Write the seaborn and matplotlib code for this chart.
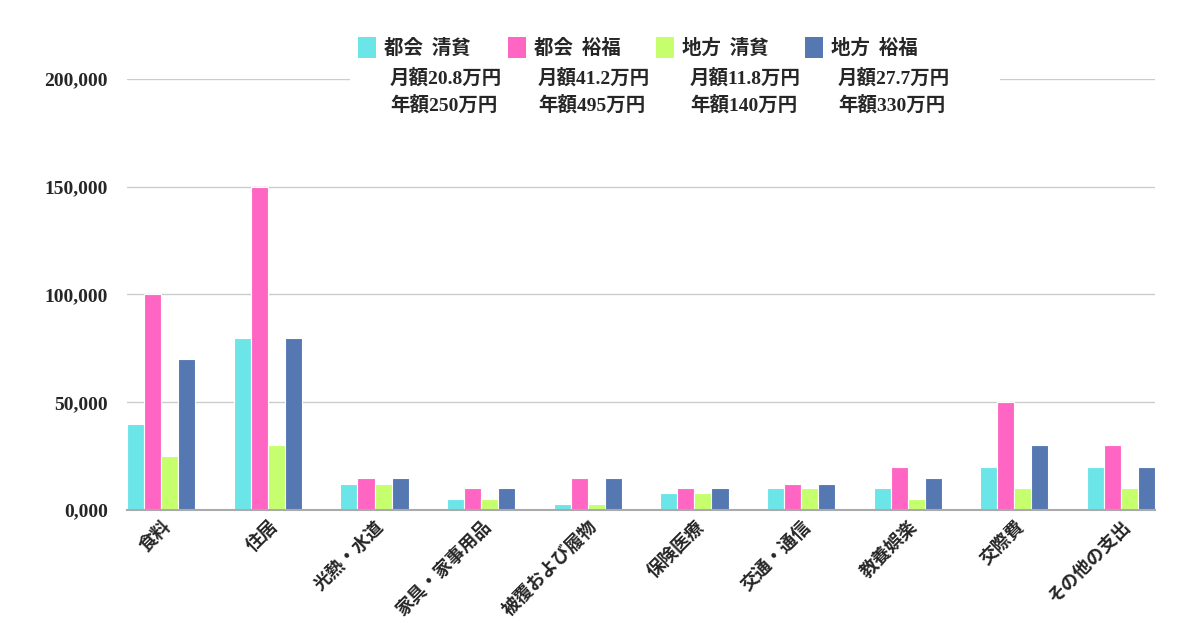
import matplotlib
matplotlib.use("Agg")
import matplotlib.pyplot as plt
from matplotlib.patches import Rectangle
import seaborn as sns
import pandas as pd

categories = ["食料", "住居", "光熱・水道", "家具・家事用品", "被覆および履物",
              "保険医療", "交通・通信", "教養娯楽", "交際費", "その他の支出"]
series_names = ["都会 清貧", "都会 裕福", "地方 清貧", "地方 裕福"]
city_poor = [40000, 80000, 12000, 5000, 3000, 8000, 10000, 10000, 20000, 20000]
city_rich = [100000, 150000, 15000, 10000, 15000, 10000, 12000, 20000, 50000, 30000]
rural_poor = [25000, 30000, 12000, 5000, 3000, 8000, 10000, 5000, 10000, 10000]
rural_rich = [70000, 80000, 15000, 10000, 15000, 10000, 12000, 15000, 30000, 20000]
monthly = ["月額20.8万円", "月額41.2万円", "月額11.8万円", "月額27.7万円"]
annual = ["年額250万円", "年額495万円", "年額140万円", "年額330万円"]
yticks = [0, 50000, 100000, 150000, 200000]
ytick_labels = ["0,000", "50,000", "100,000", "150,000", "200,000"]
colors = ["#6ce5e8", "#ff66c4", "#c6ff6e", "#5578b2"]

sns.set_theme(style="white")
JP = ["Liberation Serif", "Noto Sans CJK JP", "DejaVu Sans"]
plt.rcParams["font.family"] = JP

rows = []
for name, vals in zip(series_names, [city_poor, city_rich, rural_poor, rural_rich]):
    for c, v in zip(categories, vals):
        rows.append({"cat": c, "series": name, "value": v})
df = pd.DataFrame(rows)

fig = plt.figure(figsize=(12, 6.3), dpi=100)
ax = fig.add_axes([0.106, 0.1905, 0.8565, 0.6841])
sns.barplot(data=df, x="cat", y="value", hue="series", order=categories,
            hue_order=series_names, palette=colors, width=0.64,
            edgecolor="white", linewidth=0.8, saturation=1, ax=ax, legend=False)

ax.set_xlim(-0.32, 9.32)
ax.set_ylim(0, 200000)
ax.set_yticks(yticks)
ax.set_yticklabels(ytick_labels, fontsize=14, fontweight="bold",
                   family=["Liberation Serif"])
ax.yaxis.grid(True, color="#cccccc", linewidth=1)
ax.set_axisbelow(True)
for s in ["left", "right", "top"]:
    ax.spines[s].set_visible(False)
ax.spines["bottom"].set_color("#aaaaaa")
ax.spines["bottom"].set_linewidth(1.5)
ax.tick_params(axis="y", length=0, pad=14)
ax.tick_params(axis="x", length=0, pad=5)
ax.set_xlabel("")
ax.set_ylabel("")
plt.setp(ax.get_xticklabels(), rotation=45, ha="right", rotation_mode="anchor",
         fontsize=13, fontweight="bold", family=["Noto Sans CJK JP"])

# white box behind legend
fig.add_artist(Rectangle((350 / 1200, 1 - 92 / 630), 650 / 1200, 70 / 630,
                         transform=fig.transFigure, facecolor="white",
                         edgecolor="none", zorder=5))

sq_x = [358, 508, 656, 805]
txt_x = [390, 538, 690, 838]
for i in range(4):
    fig.add_artist(Rectangle((sq_x[i] / 1200, 1 - 58 / 630), 18 / 1200, 21 / 630,
                             transform=fig.transFigure, facecolor=colors[i],
                             edgecolor="none", zorder=6))
    fig.text((sq_x[i] + 26) / 1200, 1 - 48 / 630,
             series_names[i].replace(" ", "  "), fontsize=14,
             fontweight="bold", va="center", ha="left", zorder=7,
             family=["Noto Sans CJK JP"])
    fig.text(txt_x[i] / 1200, 1 - 78 / 630, monthly[i], fontsize=14,
             fontweight="bold", va="center", ha="left", zorder=7, family=JP)
    fig.text(txt_x[i] / 1200, 1 - 105 / 630, annual[i], fontsize=14,
             fontweight="bold", va="center", ha="left", zorder=7, family=JP)

fig.savefig("out.png", dpi=100, facecolor="white")
